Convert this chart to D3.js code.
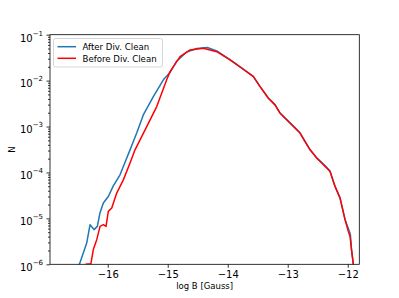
<!DOCTYPE html>
<html>
<head>
<meta charset="utf-8">
<script src="https://cdn.jsdelivr.net/npm/d3@7"></script>
<style>
  body { margin: 0; background: #fff; }
  svg { display: block; font-family: "DejaVu Sans", sans-serif; }
  .axis path, .axis line { stroke: #000; stroke-width: 0.8; }
  .axis text { fill: #000; font-size: 10px; font-family: "DejaVu Sans", sans-serif; }
</style>
</head>
<body>
<div id="container"></div>
<script>
// log10 of magnetic field (x) and normalized counts (N)
const afterX = [-16.55, -16.47, -16.35, -16.295, -16.228, -16.173, -16.128, -16.073, -15.99, -15.907,
  -15.795, -15.728, -15.628, -15.517, -15.407, -15.24, -15.073, -14.962, -14.85, -14.683,
  -14.517, -14.34, -14.183, -13.962, -13.767, -13.573, -13.462, -13.323, -13.212, -13.128,
  -12.962, -12.795, -12.712, -12.628, -12.517, -12.35, -12.295, -12.212, -12.128, -12.045,
  -11.975, -11.955, -11.937, -11.907, -11.895];
const afterN = [6.0e-7, 1.02e-6, 2.9e-6, 7.3e-6, 5.7e-6, 6.7e-6, 1.33e-5, 2.16e-5, 3.0e-5, 5.1e-5,
  8.9e-5, 1.47e-4, 3.1e-4, 7.2e-4, 1.79e-3, 4.5e-3, 1.04e-2, 1.5e-2, 2.65e-2, 4.2e-2,
  5.0e-2, 5.25e-2, 4.45e-2, 2.88e-2, 1.9e-2, 1.24e-2, 7.5e-3, 4.2e-3, 3.0e-3, 1.97e-3,
  1.2e-3, 7.3e-4, 4.8e-4, 3.15e-4, 2.08e-4, 1.29e-4, 1.07e-4, 5.0e-5, 2.8e-5, 9.5e-6,
  5.3e-6, 4.4e-6, 2.09e-6, 1.02e-6, 6.3e-7];

const beforeX = [-16.37, -16.28, -16.24, -16.183, -16.128, -16.073, -16.028, -15.99, -15.933, -15.85,
  -15.74, -15.628, -15.545, -15.35, -15.183, -15.017, -14.962, -14.795, -14.628, -14.407,
  -14.183, -13.962, -13.767, -13.573, -13.462, -13.323, -13.212, -13.128, -12.962, -12.795,
  -12.712, -12.628, -12.517, -12.35, -12.295, -12.212, -12.128, -12.045, -11.99, -11.962,
  -11.937, -11.907, -11.895];
const beforeN = [1.0e-6, 1.03e-6, 2.09e-6, 3.44e-6, 6.7e-6, 7.3e-6, 6.7e-6, 1.42e-5, 1.68e-5, 3.56e-5,
  6.9e-5, 1.6e-4, 3.11e-4, 1.0e-3, 2.72e-3, 1.04e-2, 1.57e-2, 3.33e-2, 4.65e-2, 5.06e-2,
  4.27e-2, 2.82e-2, 1.86e-2, 1.22e-2, 7.4e-3, 4.14e-3, 2.96e-3, 1.95e-3, 1.19e-3, 7.2e-4,
  4.72e-4, 3.11e-4, 2.06e-4, 1.25e-4, 1.05e-4, 4.97e-5, 2.77e-5, 9.4e-6, 5.2e-6, 4.1e-6,
  2.09e-6, 1.02e-6, 6.3e-7];

const xTicks = [-16, -15, -14, -13, -12];
const yTicks = [1e-6, 1e-5, 1e-4, 1e-3, 1e-2, 1e-1];
const seriesNames = ["After Div. Clean", "Before Div. Clean"];
const seriesColors = ["#1f77b4", "#ff0000"];

const width = 399;
const height = 298;
const plot = { left: 50, right: 359.3, top: 34.7, bottom: 264.3 };

const svg = d3.select("#container").append("svg")
  .attr("width", width).attr("height", height);

const x = d3.scaleLinear().domain([-16.962, -11.807]).range([plot.left, plot.right]);
const y = d3.scaleLog().domain([1e-6, 1e-1]).range([plot.bottom, plot.top]);

svg.append("clipPath").attr("id", "clip")
  .append("rect").attr("x", plot.left).attr("y", plot.top)
  .attr("width", plot.right - plot.left).attr("height", plot.bottom - plot.top);

const line = d3.line().x(d => x(d[0])).y(d => y(d[1]));

const series = [
  d3.zip(afterX, afterN),
  d3.zip(beforeX, beforeN)
];

svg.append("g").attr("clip-path", "url(#clip)")
  .selectAll("path").data(series).enter().append("path")
  .attr("d", line)
  .attr("fill", "none")
  .attr("stroke", (d, i) => seriesColors[i])
  .attr("stroke-width", 1.5)
  .attr("stroke-linejoin", "round");

// frame
svg.append("rect")
  .attr("x", plot.left).attr("y", plot.top)
  .attr("width", plot.right - plot.left).attr("height", plot.bottom - plot.top)
  .attr("fill", "none").attr("stroke", "#000").attr("stroke-width", 0.8);

// x axis
const xAxis = svg.append("g").attr("class", "axis")
  .attr("transform", `translate(0,${plot.bottom})`)
  .call(d3.axisBottom(x).tickValues(xTicks).tickSize(3.5).tickPadding(3.5).tickFormat(d3.format("d")));
xAxis.select(".domain").remove();

// y axis, minor ticks first
const minor = [];
for (let e = -6; e < -1; e++) for (let m = 2; m <= 9; m++) minor.push(m * Math.pow(10, e));
const yMinor = svg.append("g").attr("class", "axis")
  .attr("transform", `translate(${plot.left},0)`)
  .call(d3.axisLeft(y).tickValues(minor).tickSize(2).tickFormat(""));
yMinor.select(".domain").remove();
yMinor.selectAll("line").attr("stroke-width", 0.6);

const yAxis = svg.append("g").attr("class", "axis")
  .attr("transform", `translate(${plot.left},0)`)
  .call(d3.axisLeft(y).tickValues(yTicks).tickSize(3.5).tickPadding(3.5).tickFormat(""));
yAxis.select(".domain").remove();

yAxis.selectAll(".tick").each(function (d) {
  const t = d3.select(this).append("text")
    .attr("x", -7).attr("y", 6.3)
    .attr("text-anchor", "end")
    .attr("fill", "#000");
  t.append("tspan").text("10").attr("font-size", "10px");
  t.append("tspan").text("−" + Math.abs(Math.round(Math.log10(d))))
    .attr("font-size", "7px").attr("dy", -6);
});

// axis labels
svg.append("text")
  .attr("x", (plot.left + plot.right) / 2).attr("y", 288.5)
  .attr("text-anchor", "middle")
  .attr("font-size", "8.5px")
  .text("log B [Gauss]");

svg.append("text")
  .attr("transform", `translate(14.5,${(plot.top + plot.bottom) / 2}) rotate(-90)`)
  .attr("text-anchor", "middle")
  .attr("font-size", "8.5px")
  .text("N");

// legend
const lg = svg.append("g").attr("transform", "translate(53.5,38.5)");
lg.append("rect")
  .attr("width", 109).attr("height", 28.5).attr("rx", 2)
  .attr("fill", "#fff").attr("fill-opacity", 0.8)
  .attr("stroke", "#ccc").attr("stroke-width", 0.8);

const items = lg.selectAll(".legend-item").data(seriesNames).enter().append("g")
  .attr("class", "legend-item")
  .attr("transform", (d, i) => `translate(0,${8.2 + i * 11.6})`);
items.append("line")
  .attr("x1", 4).attr("x2", 22.5)
  .attr("stroke", (d, i) => seriesColors[i]).attr("stroke-width", 1.5);
items.append("text")
  .attr("x", 29).attr("y", 3.2)
  .attr("font-size", "8.6px")
  .text(d => d);
</script>
</body>
</html>
